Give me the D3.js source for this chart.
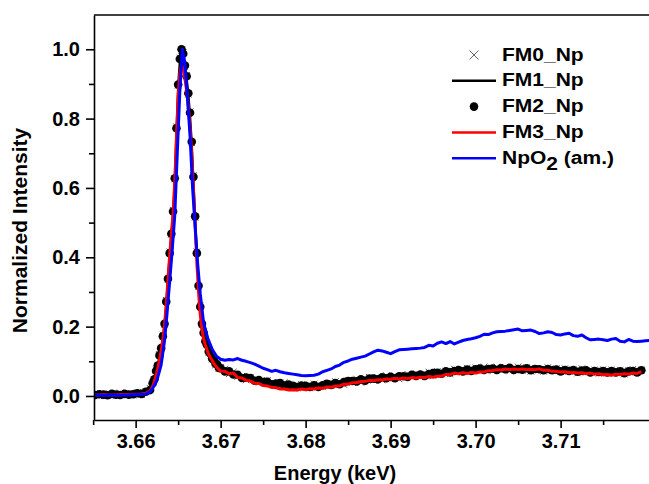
<!DOCTYPE html>
<html>
<head>
<meta charset="utf-8">
<script src="https://cdn.jsdelivr.net/npm/d3@7"></script>
<style>
  html, body { margin: 0; padding: 0; background: #fff; }
  svg { display: block; }
  text { font-family: "Liberation Sans", Arial, sans-serif; font-weight: bold; fill: #000; }
</style>
</head>
<body>
<svg id="chart" width="649" height="484"></svg>
<script>
// Energy grid (keV) shared by the four FM scans
const energy = [
  3.6552,3.6557,3.6562,3.6567,3.6572,3.6577,3.6582,3.6587,3.6592,3.6597,3.6602,3.6607,3.6612,3.6617,
  3.6620,3.6622,3.6624,3.6626,3.6628,3.6630,3.6632,3.6634,3.6636,3.6638,
  3.6640,3.6642,3.6644,3.6646,3.6648,3.6650,3.6652,3.6654,3.6656,3.6658,
  3.6660,3.6662,3.6664,3.6666,3.6668,3.6670,3.6672,3.6674,3.6676,3.6678,
  3.6680,3.6682,3.6684,3.6686,3.6688,3.6690,3.6692,3.6694,3.6696,3.6698,3.6700,
  3.6705,3.6710,3.6715,3.6720,3.6725,3.6730,3.6735,3.6740,3.6745,3.6750,
  3.6755,3.6760,3.6765,3.6770,3.6775,3.6780,3.6785,3.6790,3.6795,3.6800,
  3.6805,3.6810,3.6815,3.6820,3.6825,3.6830,3.6835,3.6840,3.6845,3.6850,
  3.6855,3.6860,3.6865,3.6870,3.6875,3.6880,3.6885,3.6890,3.6895,3.6900,
  3.6905,3.6910,3.6915,3.6920,3.6925,3.6930,3.6935,3.6940,3.6945,3.6950,
  3.6955,3.6960,3.6965,3.6970,3.6975,3.6980,3.6985,3.6990,3.6995,3.7000,
  3.7005,3.7010,3.7015,3.7020,3.7025,3.7030,3.7035,3.7040,3.7045,3.7050,
  3.7055,3.7060,3.7065,3.7070,3.7075,3.7080,3.7085,3.7090,3.7095,3.7100,
  3.7105,3.7110,3.7115,3.7120,3.7125,3.7130,3.7135,3.7140,3.7145,3.7150,
  3.7155,3.7160,3.7165,3.7170,3.7175,3.7180,3.7185,3.7190,3.7195
];

// FM0_Np (crosses)
const fm0 = [
  0.006,0.000,0.008,0.002,0.005,0.001,0.009,0.003,0.007,0.002,0.010,0.004,0.013,0.022,
  0.040,0.046,0.075,0.086,0.120,0.136,0.176,0.205,0.276,0.335,
  0.416,0.466,0.536,0.626,0.776,0.896,0.975,0.996,0.990,0.950,
  0.925,0.870,0.820,0.730,0.636,0.515,0.416,0.315,0.260,0.205,
  0.186,0.155,0.150,0.126,0.125,0.106,0.108,0.090,0.094,0.079,0.083,
  0.078,0.064,0.069,0.056,0.057,0.046,0.053,0.047,0.039,0.044,
  0.045,0.035,0.030,0.038,0.039,0.027,0.031,0.023,0.033,0.030,
  0.023,0.035,0.030,0.026,0.037,0.030,0.042,0.035,0.033,0.045,
  0.039,0.049,0.039,0.049,0.054,0.045,0.053,0.046,0.059,0.052,
  0.058,0.049,0.058,0.063,0.055,0.064,0.055,0.062,0.069,0.059,
  0.071,0.063,0.072,0.064,0.078,0.073,0.069,0.080,0.073,0.081,
  0.072,0.084,0.079,0.072,0.084,0.076,0.083,0.072,0.080,0.084,
  0.074,0.082,0.071,0.080,0.077,0.071,0.082,0.073,0.079,0.070,
  0.079,0.071,0.076,0.066,0.079,0.068,0.073,0.075,0.065,0.076,
  0.066,0.075,0.067,0.074,0.063,0.073,0.077,0.067,0.075
];

// FM1_Np (black line)
const fm1 = [
  0.004,0.002,0.005,0.005,0.003,0.004,0.006,0.004,0.005,0.006,0.007,0.007,0.011,0.018,
  0.034,0.051,0.069,0.091,0.114,0.141,0.169,0.211,0.268,0.341,
  0.409,0.471,0.529,0.632,0.768,0.901,0.969,1.000,0.984,0.956,
  0.919,0.876,0.814,0.736,0.629,0.521,0.409,0.321,0.254,0.211,
  0.179,0.161,0.144,0.131,0.119,0.111,0.101,0.096,0.088,0.084,0.077,
  0.074,0.067,0.064,0.058,0.056,0.051,0.050,0.045,0.045,0.040,
  0.040,0.036,0.036,0.033,0.033,0.030,0.031,0.028,0.029,0.027,
  0.029,0.028,0.030,0.029,0.033,0.032,0.036,0.036,0.040,0.040,
  0.043,0.043,0.046,0.046,0.049,0.048,0.051,0.050,0.053,0.052,
  0.055,0.054,0.057,0.056,0.058,0.058,0.061,0.060,0.063,0.062,
  0.066,0.065,0.069,0.068,0.072,0.071,0.074,0.073,0.076,0.075,
  0.077,0.076,0.078,0.076,0.079,0.077,0.079,0.077,0.078,0.076,
  0.078,0.076,0.078,0.075,0.077,0.075,0.076,0.074,0.075,0.073,
  0.074,0.072,0.073,0.071,0.073,0.070,0.072,0.069,0.071,0.069,
  0.071,0.068,0.070,0.068,0.070,0.069,0.071,0.069,0.072
];

// FM2_Np (filled circles)
const fm2 = [
  0.003,0.005,0.004,0.002,0.006,0.004,0.003,0.006,0.004,0.005,0.008,0.006,0.012,0.017,
  0.037,0.048,0.072,0.088,0.117,0.138,0.172,0.208,0.272,0.338,
  0.412,0.468,0.532,0.628,0.772,0.898,0.972,1.000,0.987,0.953,
  0.922,0.873,0.817,0.733,0.632,0.518,0.412,0.318,0.257,0.208,
  0.182,0.158,0.147,0.128,0.122,0.108,0.104,0.093,0.091,0.081,0.080,
  0.071,0.071,0.062,0.061,0.052,0.053,0.052,0.044,0.046,0.040,
  0.041,0.034,0.036,0.037,0.030,0.033,0.029,0.026,0.030,0.029,
  0.026,0.031,0.026,0.031,0.035,0.032,0.037,0.034,0.040,0.043,
  0.043,0.042,0.048,0.044,0.050,0.050,0.048,0.054,0.051,0.055,
  0.051,0.057,0.057,0.055,0.061,0.058,0.062,0.058,0.063,0.066,
  0.067,0.064,0.071,0.068,0.072,0.075,0.071,0.076,0.072,0.077,
  0.079,0.075,0.078,0.079,0.075,0.080,0.077,0.081,0.075,0.078,
  0.076,0.080,0.074,0.078,0.077,0.074,0.078,0.074,0.076,0.071,
  0.075,0.072,0.075,0.070,0.073,0.074,0.068,0.072,0.069,0.072,
  0.068,0.072,0.068,0.071,0.066,0.071,0.072,0.068,0.074
];

// FM3_Np (red line)
const fm3 = [
  0.003,0.003,0.004,0.003,0.003,0.003,0.004,0.004,0.004,0.005,0.005,0.006,0.008,0.014,
  0.028,0.042,0.060,0.080,0.104,0.130,0.162,0.205,0.265,0.335,
  0.405,0.465,0.525,0.615,0.745,0.865,0.930,0.955,0.945,0.915,
  0.880,0.835,0.775,0.695,0.595,0.490,0.385,0.300,0.235,0.192,
  0.164,0.147,0.133,0.120,0.111,0.102,0.094,0.087,0.081,0.076,0.072,
  0.071,0.064,0.066,0.053,0.052,0.045,0.043,0.037,0.036,0.030,
  0.029,0.025,0.024,0.020,0.020,0.017,0.018,0.017,0.020,0.018,
  0.021,0.020,0.023,0.022,0.026,0.025,0.029,0.029,0.034,0.034,
  0.038,0.038,0.042,0.042,0.045,0.044,0.047,0.046,0.049,0.048,
  0.051,0.049,0.052,0.050,0.053,0.052,0.054,0.053,0.056,0.054,
  0.057,0.057,0.062,0.062,0.066,0.064,0.067,0.065,0.068,0.066,
  0.069,0.069,0.073,0.073,0.076,0.075,0.078,0.076,0.078,0.076,
  0.078,0.076,0.077,0.076,0.078,0.074,0.074,0.071,0.071,0.069,
  0.070,0.067,0.068,0.066,0.067,0.064,0.066,0.063,0.064,0.061,
  0.062,0.060,0.063,0.062,0.064,0.063,0.066,0.065,0.070
];

// NpO2 (am.) reference scan
const npoEnergy = [
  3.6552,3.6562,3.6572,3.6582,3.6592,3.6602,3.6607,3.6612,3.6617,3.6620,
  3.6625,3.6630,3.6634,3.6637,3.6640,3.6643,3.6646,3.6649,3.6652,3.6655,
  3.6658,3.6661,3.6664,3.6667,3.6670,3.6673,3.6676,3.6680,3.6685,3.6690,
  3.6695,3.6700,
  3.6705,3.6710,3.6715,3.6720,3.6725,3.6730,3.6735,3.6740,3.6745,3.6750,
  3.6755,3.6760,3.6765,3.6770,3.6775,3.6780,3.6785,3.6790,3.6795,3.6800,
  3.6805,3.6810,3.6815,3.6820,3.6825,3.6830,3.6835,3.6840,3.6845,3.6850,
  3.6855,3.6860,3.6865,3.6870,3.6875,3.6880,3.6885,3.6890,3.6895,3.6900,
  3.6905,3.6910,3.6915,3.6920,3.6925,3.6930,3.6935,3.6940,3.6945,3.6950,
  3.6955,3.6960,3.6965,3.6970,3.6975,3.6980,3.6985,3.6990,3.6995,3.7000,
  3.7005,3.7010,3.7015,3.7020,3.7025,3.7030,3.7035,3.7040,3.7045,3.7050,
  3.7055,3.7060,3.7065,3.7070,3.7075,3.7080,3.7085,3.7090,3.7095,3.7100,
  3.7105,3.7110,3.7115,3.7120,3.7125,3.7130,3.7135,3.7140,3.7145,3.7150,
  3.7155,3.7160,3.7165,3.7170,3.7175,3.7180,3.7185,3.7190,3.7195,3.7200,
  3.7205
];
const npoIntensity = [
  0.003,0.002,0.003,0.002,0.003,0.004,0.004,0.006,0.012,0.022,
  0.045,0.090,0.160,0.240,0.330,0.420,0.520,0.700,0.880,1.000,
  0.960,0.860,0.750,0.600,0.490,0.380,0.295,0.210,0.165,0.135,
  0.115,0.106,
  0.103,0.105,0.104,0.108,0.103,0.100,0.096,0.092,0.086,0.080,
  0.076,0.071,0.074,0.070,0.067,0.065,0.063,0.061,0.059,0.058,
  0.059,0.060,0.063,0.070,0.074,0.078,0.085,0.089,0.097,0.101,
  0.106,0.109,0.112,0.115,0.121,0.127,0.132,0.130,0.126,0.122,
  0.128,0.133,0.134,0.135,0.136,0.137,0.138,0.140,0.146,0.144,
  0.152,0.156,0.151,0.157,0.150,0.155,0.160,0.163,0.165,0.168,
  0.172,0.178,0.177,0.182,0.185,0.186,0.187,0.189,0.191,0.193,
  0.188,0.189,0.190,0.186,0.180,0.182,0.185,0.183,0.177,0.176,
  0.179,0.181,0.174,0.172,0.176,0.168,0.162,0.163,0.164,0.162,
  0.160,0.164,0.166,0.158,0.156,0.163,0.158,0.157,0.158,0.159,
  0.160
];

const xTicks = [3.66, 3.67, 3.68, 3.69, 3.70, 3.71];
const xMinorTicks = [3.655, 3.665, 3.675, 3.685, 3.695, 3.705, 3.715];
const yTicks = [0.0, 0.2, 0.4, 0.6, 0.8, 1.0];
const yMinorTicks = [0.1, 0.3, 0.5, 0.7, 0.9];
const legendLabels = ["FM0_Np", "FM1_Np", "FM2_Np", "FM3_Np", "NpO2 (am.)"];

// ---- layout ----
const plot = { left: 94, top: 15, right: 649, bottom: 420 };
const svg = d3.select("#chart");

const x = d3.scaleLinear().domain([3.6551, 3.7204]).range([plot.left, plot.right]);
const y = d3.scaleLinear().domain([-0.0693, 1.0988]).range([plot.bottom, plot.top]);

const toPoints = (xs, ys) => xs.map((e, i) => [e, ys[i]]).filter(p => p[1] !== undefined);
const fm0Pts = toPoints(energy, fm0);
const fm1Pts = toPoints(energy, fm1);
const fm2Pts = toPoints(energy, fm2);
const fm3Pts = toPoints(energy, fm3);
const npoPts = toPoints(npoEnergy, npoIntensity);

svg.append("defs").append("clipPath").attr("id", "plot-clip")
  .append("rect")
  .attr("x", plot.left).attr("y", plot.top)
  .attr("width", plot.right - plot.left).attr("height", plot.bottom - plot.top);

const area = svg.append("g").attr("clip-path", "url(#plot-clip)");
const line = d3.line().x(d => x(d[0])).y(d => y(d[1]));
const crossPath = s => `M${-s},${-s}L${s},${s}M${-s},${s}L${s},${-s}`;

// FM0: crosses
area.append("g").selectAll("path").data(fm0Pts).join("path")
  .attr("transform", d => `translate(${x(d[0])},${y(d[1])})`)
  .attr("d", crossPath(3.2))
  .attr("stroke", "#3a3a3a").attr("stroke-width", 0.9).attr("fill", "none");

// FM1: black line
area.append("path").datum(fm1Pts)
  .attr("d", line).attr("fill", "none")
  .attr("stroke", "#000").attr("stroke-width", 2).attr("stroke-linejoin", "round");

// FM2: filled circles
area.append("g").selectAll("circle").data(fm2Pts).join("circle")
  .attr("cx", d => x(d[0])).attr("cy", d => y(d[1])).attr("r", 4.3)
  .attr("fill", "#000");

// FM3: red line
area.append("path").datum(fm3Pts)
  .attr("d", line).attr("fill", "none")
  .attr("stroke", "#ff0000").attr("stroke-width", 3).attr("stroke-linejoin", "round");

// NpO2: blue line
area.append("path").datum(npoPts)
  .attr("d", line).attr("fill", "none")
  .attr("stroke", "#0000ff").attr("stroke-width", 3).attr("stroke-linejoin", "round");

// ---- axes ----
const styleAxis = g => {
  g.select(".domain").attr("stroke", "#000").attr("stroke-width", 1.6);
  g.selectAll(".tick line").attr("stroke", "#000").attr("stroke-width", 1.6);
  g.selectAll(".tick text")
    .attr("font-family", '"Liberation Sans", Arial, sans-serif')
    .attr("font-weight", "bold").attr("font-size", 20).attr("fill", "#000");
};

svg.append("g").attr("transform", `translate(0,${plot.bottom})`)
  .call(d3.axisBottom(x).tickValues(xMinorTicks).tickSize(5).tickFormat("").tickSizeOuter(0))
  .call(g => g.select(".domain").remove())
  .call(styleAxis);
svg.append("g").attr("transform", `translate(0,${plot.bottom})`)
  .call(d3.axisBottom(x).tickValues(xTicks).tickSize(8).tickPadding(6)
    .tickFormat(d3.format(".2f")).tickSizeOuter(0))
  .call(styleAxis);

svg.append("g").attr("transform", `translate(${plot.left},0)`)
  .call(d3.axisLeft(y).tickValues(yMinorTicks).tickSize(5).tickFormat("").tickSizeOuter(0))
  .call(g => g.select(".domain").remove())
  .call(styleAxis);
svg.append("g").attr("transform", `translate(${plot.left},0)`)
  .call(d3.axisLeft(y).tickValues(yTicks).tickSize(8).tickPadding(6)
    .tickFormat(d3.format(".1f")).tickSizeOuter(0))
  .call(styleAxis);

// top frame line
svg.append("line")
  .attr("x1", plot.left).attr("x2", plot.right)
  .attr("y1", plot.top).attr("y2", plot.top)
  .attr("stroke", "#000").attr("stroke-width", 1.6);

// axis titles
svg.append("text")
  .attr("x", 335).attr("y", 480)
  .attr("text-anchor", "middle").attr("font-size", 20)
  .text("Energy (keV)");

svg.append("text")
  .attr("transform", "translate(26.5,230.5) rotate(-90)")
  .attr("text-anchor", "middle").attr("font-size", 21)
  .text("Normalized Intensity");

// ---- legend ----
const legend = svg.append("g");
const rowY = i => 55 + i * 25.8;
const symX = 474, lineX0 = 452, lineX1 = 496, textX = 502;

legend.append("path")
  .attr("transform", `translate(${symX},${rowY(0)})`)
  .attr("d", crossPath(4.5))
  .attr("stroke", "#555").attr("stroke-width", 0.9).attr("fill", "none");
legend.append("line")
  .attr("x1", lineX0).attr("x2", lineX1).attr("y1", rowY(1)).attr("y2", rowY(1))
  .attr("stroke", "#000").attr("stroke-width", 2.5);
legend.append("circle")
  .attr("cx", symX).attr("cy", rowY(2)).attr("r", 4.3).attr("fill", "#000");
legend.append("line")
  .attr("x1", lineX0).attr("x2", lineX1).attr("y1", rowY(3)).attr("y2", rowY(3))
  .attr("stroke", "#ff0000").attr("stroke-width", 2.5);
legend.append("line")
  .attr("x1", lineX0).attr("x2", lineX1).attr("y1", rowY(4)).attr("y2", rowY(4))
  .attr("stroke", "#0000ff").attr("stroke-width", 2.5);

legendLabels.forEach((label, i) => {
  const t = legend.append("text")
    .attr("transform", `translate(${textX},${rowY(i) + 5.5}) scale(1,0.86)`)
    .attr("font-size", 21);
  if (label.startsWith("NpO2")) {
    t.append("tspan").text("NpO");
    t.append("tspan").attr("dy", 7).text("2");
    t.append("tspan").attr("dy", -7).text(label.slice(4));
  } else {
    t.text(label);
  }
});
</script>
</body>
</html>
